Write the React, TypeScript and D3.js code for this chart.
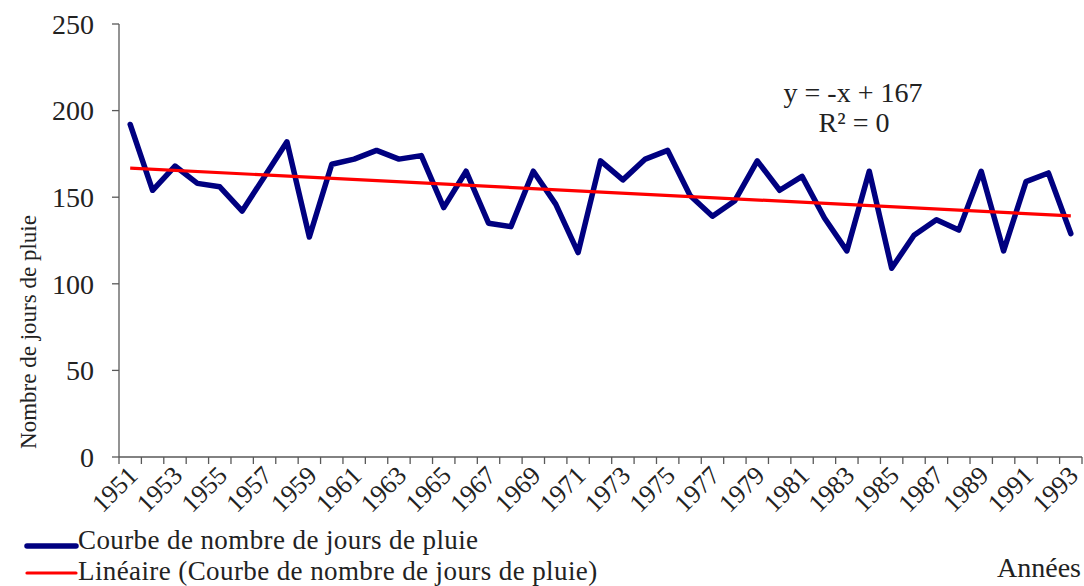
import React from 'react';
import * as d3 from 'd3';

const years = d3.range(1951, 1994);
const rainDays = [
  192, 154, 168, 158, 156, 142, 162, 182, 127, 169,
  172, 177, 172, 174, 144, 165, 135, 133, 165, 146,
  118, 171, 160, 172, 177, 151, 139, 148, 171, 154,
  162, 138, 119, 165, 109, 128, 137, 131, 165, 119,
  159, 164, 129,
];
const yTicks = [0, 50, 100, 150, 200, 250];
const seriesLabel = 'Courbe de nombre de jours de pluie';
const trendLabel = 'Linéaire (Courbe de nombre de jours de pluie)';
const equation = ['y = -x + 167', 'R² = 0'];

const W = 1084;
const H = 586;
const FONT = "'Liberation Serif', 'DejaVu Serif', Times, serif";
const AXIS = '#595959';

const App: React.FC = () => {
  const x = d3.scaleBand<number>().domain(years).range([119, 1082]).padding(0);
  const y = d3.scaleLinear().domain([0, 250]).range([457, 24]);
  const cx = (yr: number) => (x(yr) as number) + x.bandwidth() / 2;

  const data = years.map((yr, i) => ({ yr, v: rainDays[i] }));

  // régression linéaire (comme la courbe de tendance d'Excel)
  const n = data.length;
  const idx = data.map((_, i) => i + 1);
  const mx = d3.mean(idx) as number;
  const my = d3.mean(rainDays) as number;
  const slope = d3.sum(idx, (k, i) => (k - mx) * (rainDays[i] - my)) / d3.sum(idx, k => (k - mx) ** 2);
  const icpt = my - slope * mx;
  const trend = [
    { yr: years[0], v: icpt + slope * 1 },
    { yr: years[n - 1], v: icpt + slope * n },
  ];

  const line = d3.line<{ yr: number; v: number }>().x(d => cx(d.yr)).y(d => y(d.v));

  const ticksX = [...years.map(yr => x(yr) as number), 1082];

  return (
    <svg width={W} height={H} style={{ position: 'absolute', left: 0, top: 0, background: '#fff', fontFamily: FONT }}>
      {/* axe Y */}
      <line x1={119} x2={119} y1={y(250)} y2={y(0)} stroke={AXIS} strokeWidth={1.3} />
      {yTicks.map(t => (
        <g key={t}>
          <line x1={112} x2={119} y1={y(t)} y2={y(t)} stroke={AXIS} strokeWidth={1.3} />
          <text x={94} y={y(t)} dy="0.35em" textAnchor="end" fontSize={28} fill="#222">{t}</text>
        </g>
      ))}
      <text transform={`translate(36, 332) rotate(-90)`} textAnchor="middle" fontSize={23} fill="#222">
        Nombre de jours de pluie
      </text>

      {/* axe X */}
      <line x1={119} x2={1082} y1={y(0)} y2={y(0)} stroke={AXIS} strokeWidth={1.3} />
      {ticksX.map((tx, i) => (
        <line key={i} x1={tx} x2={tx} y1={y(0)} y2={y(0) + 7} stroke={AXIS} strokeWidth={1.3} />
      ))}
      {years.filter((_, i) => i % 2 === 0).map(yr => (
        <text key={yr} transform={`translate(${cx(yr) + 9}, 477) rotate(-45)`} textAnchor="end" fontSize={26} fill="#222">
          {yr}
        </text>
      ))}
      <text x={1081} y={577} textAnchor="end" fontSize={28} fill="#222">Années</text>

      {/* séries */}
      <path d={line(data) as string} fill="none" stroke="#000080" strokeWidth={5.5} strokeLinejoin="round" strokeLinecap="round" />
      <path d={line(trend) as string} fill="none" stroke="#ff0000" strokeWidth={3.2} />

      {/* équation */}
      <text x={853} y={102} textAnchor="middle" fontSize={28} fill="#222">{equation[0]}</text>
      <text x={854} y={132} textAnchor="middle" fontSize={28} fill="#222">{equation[1]}</text>

      {/* légende */}
      <line x1={27} x2={76} y1={546} y2={546} stroke="#000080" strokeWidth={5.5} strokeLinecap="round" />
      <text x={78} y={549} fontSize={27} letterSpacing={0.4} fill="#222">{seriesLabel}</text>
      <line x1={27} x2={76} y1={573} y2={573} stroke="#ff0000" strokeWidth={3.2} strokeLinecap="round" />
      <text x={78} y={580} fontSize={27} letterSpacing={0.4} fill="#222">{trendLabel}</text>
    </svg>
  );
};

export default App;
